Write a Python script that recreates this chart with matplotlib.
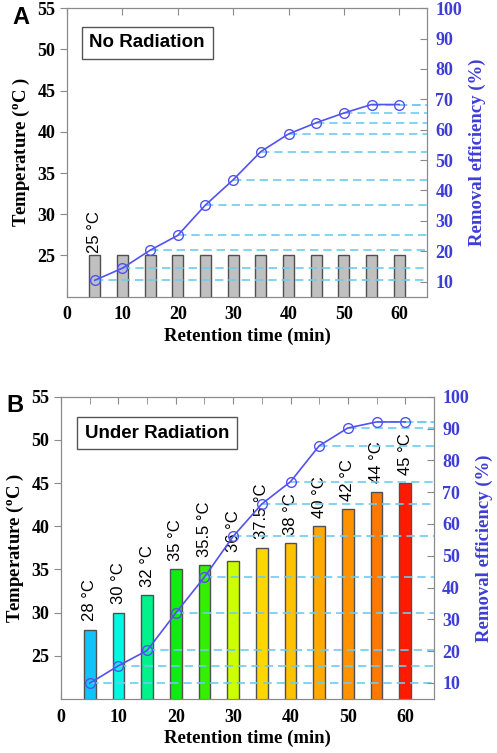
import matplotlib
matplotlib.use("Agg")
import matplotlib.pyplot as plt

# datos
tiempo = [5, 10, 15, 20, 25, 30, 35, 40, 45, 50, 55, 60]
temp_a = [25] * 12
efic_a = [10.4, 14.4, 20.3, 25.2, 35.2, 43.5, 52.8, 58.6, 62.3, 65.5, 68.3, 68.3]
temp_b = [28, 30, 32, 35, 35.5, 36, 37.5, 38, 40, 42, 44, 45]
efic_b = [9.9, 15.4, 20.2, 32.0, 43.3, 56.1, 66.3, 73.3, 84.6, 90.2, 92.1, 92.1]
etiq_b = ['28 °C', '30 °C', '32 °C', '35 °C', '35.5 °C', '36 °C', '37.5 °C',
          '38 °C', '40 °C', '42 °C', '44 °C', '45 °C']
colores_b = ['#10c4fa', '#00f8e4', '#00f28a', '#10ec10', '#34f000', '#ccff00',
             '#ffd600', '#ffc200', '#ffaa00', '#ff9200', '#ff7800', '#ff1a00']

plt.rcParams['font.family'] = 'Liberation Serif'
plt.rcParams['mathtext.fontset'] = 'custom'
plt.rcParams['mathtext.rm'] = 'Liberation Serif'
plt.rcParams['mathtext.bf'] = 'Liberation Serif:bold'

AZUL = '#3e3ed6'
LINEA = '#5252f2'
CIAN = '#6cccf0'
BORDE = '#8a8a8a'

fig = plt.figure(figsize=(4.97, 7.53), dpi=100)


def panel(rect, temps, efic, colores, etiquetas, caja, letra, top_minor, desp, xcaja):
    ax = fig.add_axes(rect)
    ax.bar(tiempo, temps, width=2, bottom=0, color=colores, edgecolor='#505050',
           linewidth=1, zorder=2)
    ax.set_xlim(0, 65)
    ax.set_ylim(20, 55)
    ax.set_xticks([0, 10, 20, 30, 40, 50, 60])
    ax.set_xticks(tiempo, minor=True)
    ax.set_yticks([25, 30, 35, 40, 45, 50, 55])
    for s in ax.spines.values():
        s.set_color(BORDE)
    ax.tick_params(axis='x', which='both', direction='in', colors=BORDE, length=5,
                   labelcolor='black', labelsize=13, pad=7, top=True)
    ax.tick_params(axis='x', which='minor', top=top_minor)
    ax.tick_params(axis='y', direction='out', colors=BORDE, length=5,
                   labelcolor='black', labelsize=13, right=False)
    for lab in ax.get_xticklabels() + ax.get_yticklabels():
        lab.set_fontweight('bold')
    ax.set_xlabel('Retention time (min)', fontsize=13.5, fontweight='bold', labelpad=3)
    ax.set_ylabel(r'Temperature ($\mathbf{^o}$C )', fontsize=13.5, fontweight='bold',
                  labelpad=4)
    for x, t, e in zip(tiempo, temps, etiquetas):
        if e:
            ax.annotate(e, (x, t), xytext=(0, desp), textcoords='offset points',
                        rotation=90, ha='center', va='bottom', fontsize=12,
                        family='Liberation Sans')
    ax.text(xcaja, 0.88, caja, transform=ax.transAxes, fontsize=13.5,
            fontweight='bold', family='Liberation Sans', va='center', ha='left',
            bbox=dict(boxstyle='square,pad=0.42', fc='white', ec='#555555', lw=1))
    fig.text(rect[0] - 0.11, rect[1] + rect[3] - 0.012, letra, fontsize=17,
             fontweight='bold', family='Liberation Sans', va='center')

    ax2 = ax.twinx()
    ax2.set_ylim(5, 100)
    ax2.set_yticks([10, 20, 30, 40, 50, 60, 70, 80, 90, 100])
    ax2.hlines(efic, tiempo, 65, colors=CIAN, linestyles=(0, (5, 3)), linewidth=1.2,
               zorder=1)
    ax2.plot(tiempo, efic, '-o', color=LINEA, mfc='none', ms=7, lw=1.2, zorder=3)
    for s in ax2.spines.values():
        s.set_color(BORDE)
    ax2.tick_params(axis='y', direction='in', colors=BORDE, length=5,
                    labelcolor=AZUL, labelsize=13, pad=6)
    for lab in ax2.get_yticklabels():
        lab.set_fontweight('bold')
    ax2.set_ylabel('Removal efficiency (%)', fontsize=13.5, fontweight='bold',
                   color=AZUL, labelpad=5)
    return ax, ax2


etiq_a = ['25 °C'] + [''] * 11
panel([0.135, 0.606, 0.724, 0.383], temp_a, efic_a, '#c0c0c0', etiq_a,
      'No Radiation', 'A', False, 2, 0.062)
panel([0.123, 0.072, 0.750, 0.401], temp_b, efic_b, colores_b, etiq_b,
      'Under Radiation', 'B', True, 6, 0.064)

fig.savefig('out.png', dpi=100)
